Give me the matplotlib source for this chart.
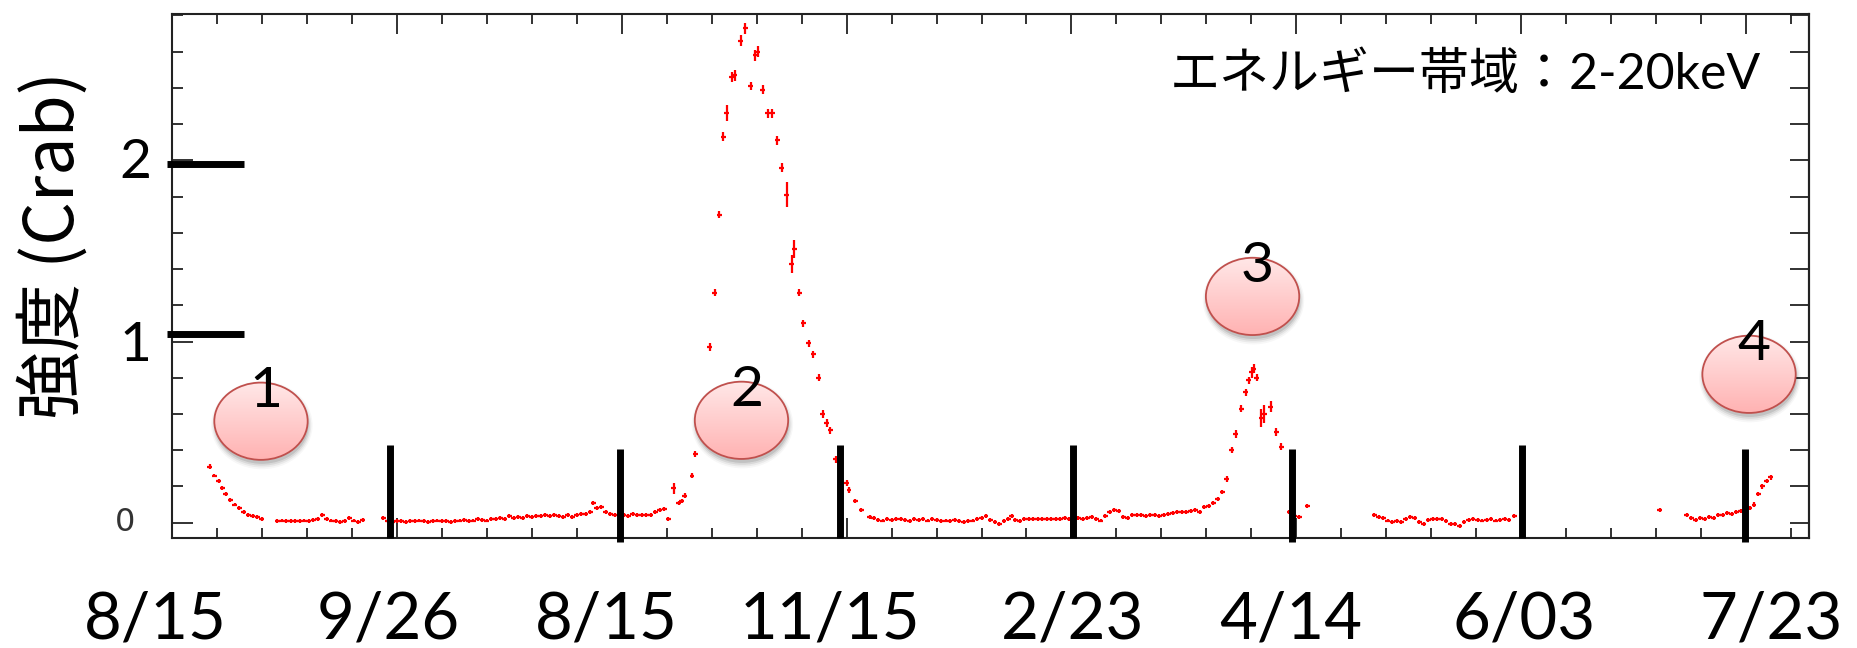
import numpy as np
import matplotlib
matplotlib.use("Agg")
from matplotlib import pyplot as plt
from matplotlib.patches import Ellipse
from matplotlib.ticker import MultipleLocator
from matplotlib.colors import LinearSegmentedColormap
import matplotlib.transforms as mtransforms

plt.rcParams["font.family"] = ["Lato", "Noto Sans CJK JP", "DejaVu Sans"]

# --- light curve (x: MJD, y: Crab) ---
# quiet stretches, drawn with a fixed small error
mjd_q1 = [55030, 55032, 55034, 55036, 55038, 55040,
          55047, 55049, 55051, 55053, 55055, 55057, 55059, 55061, 55063, 55065,
          55067, 55069, 55071, 55073, 55075, 55077, 55079, 55081, 55083, 55085]
rate_q1 = [0.080, 0.060, 0.045, 0.035, 0.030, 0.022,
           0.010, 0.012, 0.008, 0.010, 0.008, 0.010, 0.012, 0.009, 0.015, 0.020,
           0.040, 0.020, 0.012, 0.010, 0.005, 0.010, 0.028, 0.012, 0.005, 0.015]

mjd_q2 = [55094, 55096, 55098, 55100, 55102, 55104, 55106, 55108, 55110, 55112,
          55114, 55116, 55118, 55120, 55122, 55124, 55126, 55128, 55130, 55132,
          55134, 55136, 55138, 55140, 55142, 55144, 55146, 55148, 55150, 55152,
          55154, 55156, 55158, 55160, 55162, 55164, 55166, 55168, 55170, 55172,
          55174, 55176, 55178, 55180, 55182, 55184, 55186, 55187.5, 55189, 55191,
          55193, 55195, 55197, 55199, 55201, 55203, 55205, 55207, 55209, 55211,
          55213, 55215, 55217, 55219, 55220.7]
rate_q2 = [0.025, 0.010, 0.005, 0.008, 0.010, 0.006, 0.010, 0.008, 0.012, 0.010,
           0.006, 0.010, 0.012, 0.008, 0.010, 0.005, 0.010, 0.012, 0.015, 0.010,
           0.012, 0.018, 0.015, 0.012, 0.020, 0.018, 0.025, 0.020, 0.035, 0.025,
           0.030, 0.028, 0.035, 0.030, 0.038, 0.035, 0.040, 0.038, 0.040, 0.035,
           0.032, 0.040, 0.030, 0.045, 0.050, 0.048, 0.060, 0.110, 0.080, 0.085,
           0.060, 0.050, 0.045, 0.040, 0.045, 0.035, 0.050, 0.045, 0.040, 0.045,
           0.040, 0.060, 0.070, 0.075, 0.020]

mjd_q3 = [55310.3, 55312, 55314, 55316, 55318, 55320, 55322, 55324, 55326, 55328,
          55330, 55332, 55334, 55336, 55338, 55340, 55342, 55344, 55346, 55348,
          55350, 55352, 55354, 55356, 55358, 55360, 55362, 55364, 55366, 55368,
          55370, 55372, 55373.5, 55375, 55377, 55379, 55381, 55383, 55385, 55387,
          55389, 55391, 55393, 55395, 55397, 55399, 55401, 55403, 55405, 55407,
          55409, 55411, 55413, 55415, 55417, 55419, 55421, 55423, 55425, 55427,
          55429, 55431, 55433, 55435, 55437, 55439, 55441, 55443, 55445, 55447,
          55449, 55451, 55453, 55455, 55457, 55459, 55461, 55463, 55465, 55467]
rate_q3 = [0.034, 0.025, 0.015, 0.012, 0.020, 0.015, 0.018, 0.022, 0.015, 0.010,
           0.018, 0.015, 0.020, 0.012, 0.018, 0.015, 0.010, 0.012, 0.010, 0.015,
           0.008, 0.005, 0.010, 0.012, 0.020, 0.025, 0.035, 0.015, 0.005, -0.005,
           0.010, 0.020, 0.035, 0.015, 0.010, 0.018, 0.020, 0.018, 0.020, 0.022,
           0.020, 0.018, 0.022, 0.020, 0.025, 0.020, 0.022, 0.025, 0.020, 0.025,
           0.030, 0.020, 0.012, 0.035, 0.060, 0.070, 0.065, 0.030, 0.025, 0.045,
           0.040, 0.040, 0.035, 0.040, 0.040, 0.038, 0.045, 0.050, 0.055, 0.060,
           0.058, 0.060, 0.065, 0.070, 0.060, 0.085, 0.090, 0.110, 0.130, 0.170]

mjd_q4 = [55496.9, 55499, 55501.3, 55504.9,
          55534.6, 55536.5, 55538.5, 55540.5, 55542.5, 55544.5, 55546.5, 55548.5, 55550.5, 55552.5,
          55554.5, 55556.5, 55558.5, 55560.5, 55562.5, 55564.5, 55566.5, 55568.5, 55570.5, 55572.5,
          55574.5, 55576.5, 55578.5, 55580.5, 55582.5, 55584.5, 55586.5, 55588.5, 55590.5, 55592.5,
          55594.5, 55596.8,
          55661.4,
          55673.6, 55675.5, 55677.5, 55679.5, 55681.5, 55683.5, 55685.5, 55687.5, 55689.5, 55691.5,
          55693.5, 55695.5, 55697.5, 55699.5, 55701.5]
rate_q4 = [0.060, 0.035, 0.033, 0.094,
           0.042, 0.030, 0.025, 0.012, 0.006, 0.010, 0.006, 0.020, 0.030, 0.025,
           0.005, -0.005, 0.015, 0.020, 0.018, 0.022, 0.008, -0.005, -0.010, -0.018,
           0.005, 0.015, 0.020, 0.015, 0.012, 0.015, 0.018, 0.012, 0.015, 0.018,
           0.015, 0.035,
           0.070,
           0.040, 0.025, 0.015, 0.025, 0.020, 0.030, 0.028, 0.040, 0.045, 0.055,
           0.050, 0.060, 0.065, 0.070, 0.080]

# bright parts of the outbursts, with their own errors
mjd_ob1 = [55017, 55019, 55021, 55022.5, 55024, 55026, 55028]
rate_ob1 = [0.31, 0.26, 0.23, 0.19, 0.16, 0.125, 0.10]
err_ob1 = [0.012, 0.010, 0.010, 0.010, 0.010, 0.010, 0.010]

mjd_ob2 = [55223.1, 55225.4, 55226.7, 55228.1, 55231.3, 55232.7, 55239.2, 55241.4, 55243.4, 55245.3,
           55246.8, 55249.0, 55250.3, 55253.0, 55254.9, 55257.5, 55259.5, 55260.5, 55262.8, 55265.0,
           55266.9, 55269.3, 55271.1, 55273.4, 55275.6, 55276.7, 55278.9, 55280.8, 55283.1, 55285.3,
           55287.6, 55289.4, 55291.3, 55292.8, 55295.2, 55300.1, 55301.1, 55303.8, 55306.6]
rate_ob2 = [0.19, 0.11, 0.12, 0.15, 0.26, 0.38, 0.97, 1.27, 1.70, 2.13,
            2.26, 2.46, 2.47, 2.66, 2.73, 2.41, 2.58, 2.60, 2.39, 2.26,
            2.26, 2.11, 1.96, 1.81, 1.43, 1.51, 1.27, 1.10, 0.99, 0.93,
            0.80, 0.60, 0.55, 0.51, 0.35, 0.22, 0.18, 0.12, 0.07]
err_ob2 = [0.030, 0.010, 0.010, 0.015, 0.015, 0.015, 0.020, 0.020, 0.020, 0.025,
           0.045, 0.030, 0.030, 0.030, 0.030, 0.020, 0.030, 0.030, 0.025, 0.025,
           0.025, 0.025, 0.025, 0.070, 0.050, 0.050, 0.020, 0.020, 0.020, 0.020,
           0.020, 0.020, 0.020, 0.020, 0.020, 0.015, 0.015, 0.010, 0.010]

mjd_ob3 = [55469.1, 55471.3, 55473.1, 55475.5, 55477.4, 55478.8, 55480.1, 55481.0, 55482.4, 55484.4,
           55485.7, 55488.5, 55491.0, 55493.2]
rate_ob3 = [0.24, 0.40, 0.49, 0.63, 0.72, 0.785, 0.83, 0.85, 0.80, 0.58,
            0.60, 0.64, 0.50, 0.42]
err_ob3 = [0.015, 0.015, 0.020, 0.020, 0.020, 0.020, 0.030, 0.025, 0.020, 0.050,
           0.050, 0.030, 0.020, 0.020]

mjd_ob4 = [55703.4, 55705.2, 55707.1, 55709.0, 55710.8]
rate_ob4 = [0.10, 0.16, 0.20, 0.23, 0.25]
err_ob4 = [0.012, 0.012, 0.012, 0.012, 0.012]

# hand-added marks: divider bars, date labels, numbered balloons
bar_mjd = [55097.0, 55199.3, 55297.0, 55400.8, 55497.9, 55600.3, 55699.3]
date_labels = ["8/15", "9/26", "8/15", "11/15", "2/23", "4/14", "6/03", "7/23"]
date_mjd = [54992.6, 55096.1, 55193.4, 55292.8, 55400.4, 55497.3, 55601.2, 55711.1]
balloon_text = ["1", "2", "3", "4"]
balloon_mjd = [55039.7, 55253.3, 55480.5, 55701.2]
balloon_crab = [0.560, 0.565, 1.249, 0.819]
crab_marks = [1.04, 1.98]

fig = plt.figure(figsize=(18.58, 6.48), dpi=100)
ax = fig.add_axes([0.0924, 0.1702, 0.8814, 0.8082])

quiet_mjd = mjd_q1 + mjd_q2 + mjd_q3 + mjd_q4
quiet_rate = rate_q1 + rate_q2 + rate_q3 + rate_q4
ax.errorbar(quiet_mjd, quiet_rate, xerr=1.1, yerr=0.011, fmt="none",
            ecolor="red", elinewidth=1.6, capsize=0, zorder=3)
for m, r, e in [(mjd_ob1, rate_ob1, err_ob1), (mjd_ob2, rate_ob2, err_ob2),
                (mjd_ob3, rate_ob3, err_ob3), (mjd_ob4, rate_ob4, err_ob4)]:
    ax.errorbar(m, r, xerr=1.1, yerr=e, fmt="none", ecolor="red",
                elinewidth=1.6, capsize=0, zorder=3)

# divider bars (alternate slightly in height, as drawn by hand)
for i, xm in enumerate(bar_mjd):
    if i in (1, 4, 6):
        lo, hi = -0.105, 0.408
    else:
        lo, hi = -0.083, 0.430
    ax.plot([xm, xm], [lo, hi], color="black", lw=5.0, solid_capstyle="butt",
            zorder=8, clip_on=False)

# thick marks at 1 and 2 Crab with big labels
for yv in crab_marks:
    ax.plot([54997.9, 55032.1], [yv, yv], color="black", lw=5.0,
            solid_capstyle="butt", zorder=8, clip_on=False)
ytrans = mtransforms.blended_transform_factory(ax.transAxes, ax.transData)
ax.text(-0.0123, 1.902, "2", transform=ytrans, ha="right", va="baseline",
        fontsize=39.5)
ax.text(-0.0123, 0.890, "1", transform=ytrans, ha="right", va="baseline",
        fontsize=39.5)
ax.text(-0.0285, 0.0, "0", transform=ytrans, ha="center", va="center",
        fontsize=23, family="DejaVu Sans", color="#333333")

# balloons
bw, bh = 41.5, 0.4265
pink = LinearSegmentedColormap.from_list("pink", ["#ffe8e8", "#ffb2b2"])
grad = np.linspace(0, 1, 256).reshape(-1, 1)
for cx, cy, label in zip(balloon_mjd, balloon_crab, balloon_text):
    for k, a in enumerate([0.10, 0.07, 0.05, 0.03]):
        sh = Ellipse((cx + 0.4, cy - 0.022), bw + k * 1.2, bh + k * 0.02,
                     fc="black", ec="none", alpha=a, zorder=5)
        ax.add_patch(sh)
    el = Ellipse((cx, cy), bw, bh, fc="none", ec="#c0504d", lw=1.3, zorder=7)
    ax.add_patch(el)
    im = ax.imshow(grad, cmap=pink, aspect="auto", zorder=6,
                   extent=[cx - bw / 2, cx + bw / 2, cy - bh / 2, cy + bh / 2])
    im.set_clip_path(el)
    ax.text(cx + 2.2, cy + 0.077, label, ha="center", va="baseline",
            fontsize=41, zorder=9)

# energy band note
ax.text(0.9705, 0.8568, "エネルギー帯域：2-20keV", transform=ax.transAxes,
        ha="right", va="baseline", fontsize=36)

# date labels below the axis
xtrans = mtransforms.blended_transform_factory(ax.transData, fig.transFigure)
for xm, lab in zip(date_mjd, date_labels):
    ax.text(xm, 0.0154, lab, transform=xtrans, ha="center", va="baseline",
            fontsize=47)

fig.text(0.029, 0.622, "強度 (Crab)", rotation=90, ha="center", va="center",
         fontsize=49, family=["Noto Sans CJK JP"])

ax.set_xlim(55000, 55728)
ax.set_ylim(-0.083, 2.808)
ax.xaxis.set_major_locator(MultipleLocator(100))
ax.xaxis.set_minor_locator(MultipleLocator(20))
ax.yaxis.set_major_locator(MultipleLocator(1))
ax.yaxis.set_minor_locator(MultipleLocator(0.2))
ax.tick_params(which="both", direction="in", top=True, bottom=True, left=True,
               right=False, labelbottom=False, labelleft=False, width=1.3,
               color="#222222")
ax.tick_params(axis="x", which="major", length=14.4)
ax.tick_params(axis="x", which="minor", length=7.2)
ax.tick_params(axis="y", which="major", length=15)
ax.tick_params(axis="y", which="minor", length=7.7)

sec = ax.secondary_yaxis("right")
sec.yaxis.set_major_locator(MultipleLocator(0.2))
sec.tick_params(direction="in", length=14, width=1.3, labelright=False,
                color="#222222")
sec.spines["right"].set_linewidth(1.5)

for sp in ax.spines.values():
    sp.set_linewidth(1.5)
    sp.set_color("#222222")

fig.savefig("out.png", dpi=100)
